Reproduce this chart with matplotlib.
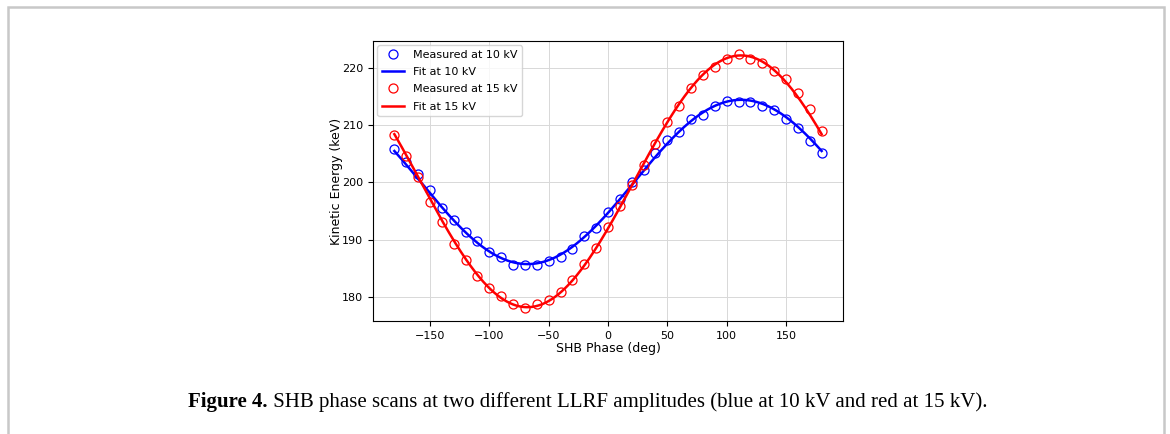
import numpy as np
import matplotlib
matplotlib.use("Agg")
import matplotlib.pyplot as plt
from matplotlib.patches import Rectangle

# ---------------- data ----------------
phase = [-180, -170, -160, -150, -140, -130, -120, -110, -100, -90,
         -80, -70, -60, -50, -40, -30, -20, -10, 0, 10,
         20, 30, 40, 50, 60, 70, 80, 90, 100, 110,
         120, 130, 140, 150, 160, 170, 180]

ke_10kv = [205.9, 203.6, 201.5, 198.6, 195.6, 193.5, 191.3, 189.8, 187.8, 187.0,
           185.5, 185.5, 185.5, 186.3, 187.0, 188.4, 190.6, 192.0, 194.9, 197.1,
           200.1, 202.2, 205.1, 207.4, 208.8, 211.1, 211.8, 213.3, 214.2, 214.0,
           214.0, 213.3, 212.6, 211.1, 209.6, 207.3, 205.2]

ke_15kv = [208.3, 204.6, 201.0, 196.5, 193.0, 189.3, 186.4, 183.6, 181.5, 180.1,
           178.7, 178.0, 178.7, 179.4, 180.8, 182.9, 185.7, 188.6, 192.2, 195.9,
           199.6, 203.1, 206.7, 210.5, 213.4, 216.5, 218.7, 220.2, 221.6, 222.5,
           221.6, 220.9, 219.5, 218.0, 215.7, 212.8, 209.0]

caption_bold = "Figure 4."
caption_text = " SHB phase scans at two different LLRF amplitudes (blue at 10 kV and red at 15 kV)."


def sine_fit(x, y):
    # least squares fit: a + b*cos(x) + c*sin(x)
    r = np.radians(x)
    A = np.column_stack([np.ones_like(r), np.cos(r), np.sin(r)])
    coef, *_ = np.linalg.lstsq(A, np.asarray(y), rcond=None)
    xf = np.linspace(min(x), max(x), 400)
    rf = np.radians(xf)
    return xf, coef[0] + coef[1] * np.cos(rf) + coef[2] * np.sin(rf)


fig = plt.figure(figsize=(11.7, 4.34), dpi=100)

# page frame around the figure
fig.patches.append(Rectangle((7.5 / 1170, -0.1), (1164 - 7.5) / 1170, 1.1 - 7.5 / 434,
                             transform=fig.transFigure, fill=False,
                             edgecolor="#c8c8c8", linewidth=1.8))

ax = fig.add_axes([373 / 1170, 1 - 321 / 434, (843 - 373) / 1170, (321 - 41) / 434])

xf, yf = sine_fit(phase, ke_10kv)
ax.plot(phase, ke_10kv, "o", mfc="none", mec="blue", ms=6.5, mew=0.9, label="Measured at 10 kV")
ax.plot(xf, yf, color="blue", lw=1.8, label="Fit at 10 kV")
xf, yf = sine_fit(phase, ke_15kv)
ax.plot(phase, ke_15kv, "o", mfc="none", mec="red", ms=6.5, mew=0.9, label="Measured at 15 kV")
ax.plot(xf, yf, color="red", lw=1.8, label="Fit at 15 kV")

ax.set_xlabel("SHB Phase (deg)", fontsize=9, labelpad=1)
ax.set_ylabel("Kinetic Energy (keV)", fontsize=9, labelpad=-1)
ax.tick_params(labelsize=8)
ax.set_yticks([180, 190, 200, 210, 220])
ax.set_xticks([-150, -100, -50, 0, 50, 100, 150])
ax.grid(True, color="#d8d8d8", linewidth=0.7)
ax.legend(loc="upper left", fontsize=8, borderaxespad=0.4, handlelength=2.0,
          labelspacing=0.65)

fig.text(188 / 1170, 1 - 402 / 434, caption_bold, fontsize=15, fontweight="bold",
         family="Liberation Serif", va="center")
fig.canvas.draw()
bb = fig.texts[0].get_window_extent()
fig.text(bb.x1 / 1170, 1 - 402 / 434, caption_text, fontsize=15,
         family="Liberation Serif", va="center")

fig.savefig("out.png", dpi=100)
